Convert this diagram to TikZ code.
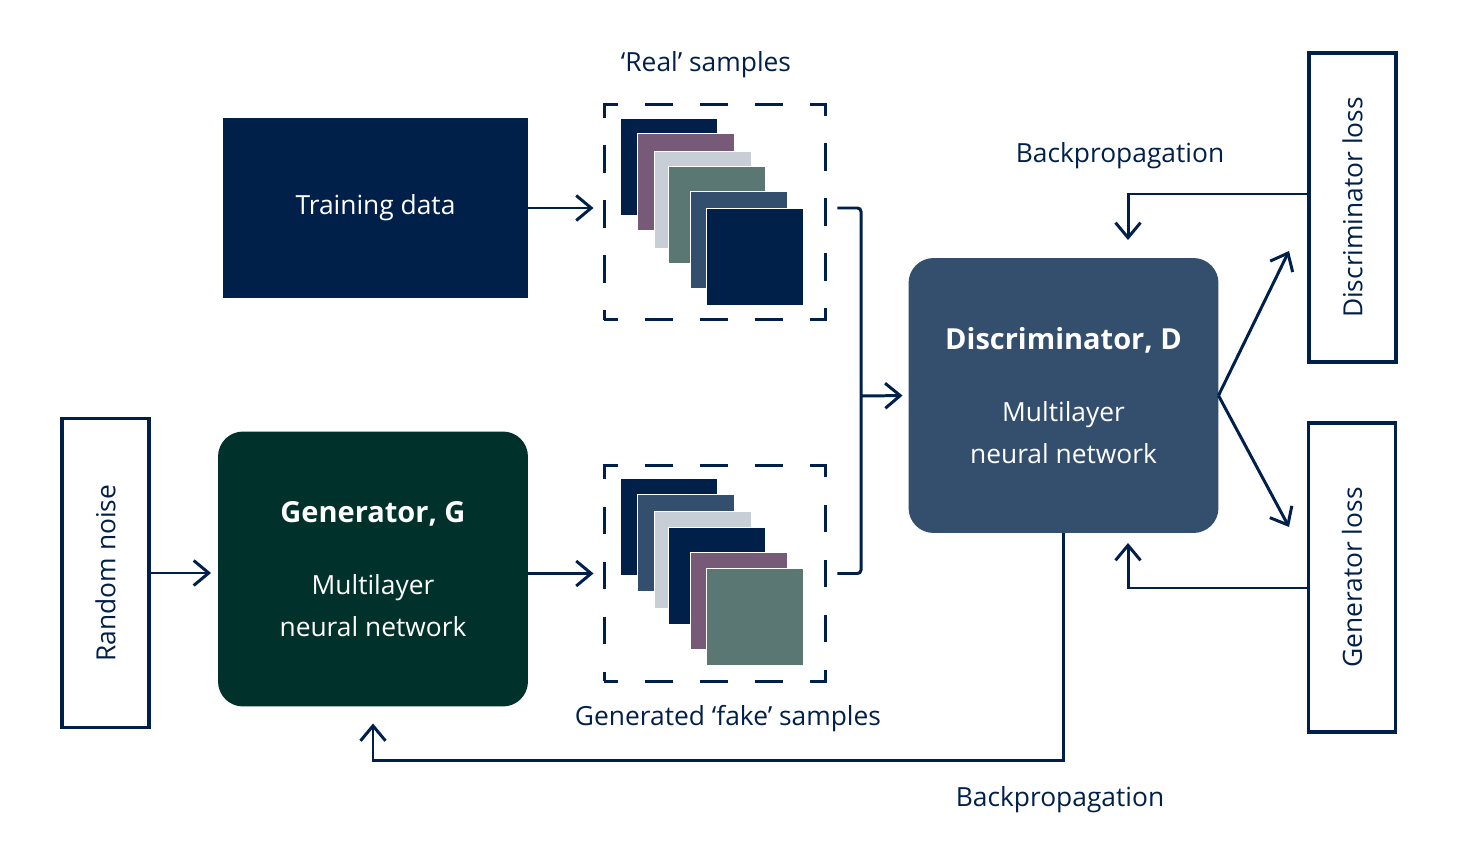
\documentclass[tikz,border=0pt]{standalone}
\usepackage{fontspec}
\setmainfont{Open Sans}
\usepackage{graphicx}
\usetikzlibrary{arrows.meta,positioning,calc}

\definecolor{navy}{HTML}{00204A}
\definecolor{slate}{HTML}{344F6D}
\definecolor{plum}{HTML}{775A78}
\definecolor{mist}{HTML}{C7CED6}
\definecolor{sage}{HTML}{5B7774}
\definecolor{pine}{HTML}{00322B}

\newcommand{\boxtitle}[1]{{\fontsize{16.5}{24}\selectfont\bfseries #1}}

\begin{document}
\begin{tikzpicture}[
    x=0.02cm, y=-0.02cm,
    txt/.style={font=\fontsize{15}{24}\selectfont, text=navy},
    block/.style={rectangle, inner sep=0pt, outer sep=0pt, text=white, align=center, font=\fontsize{15}{24}\selectfont},
    netbox/.style={block, rounded corners=0.5cm, minimum width=6.2cm, minimum height=5.5cm},
    lossbox/.style={rectangle, draw=navy, line width=2pt, fill=white, inner sep=0pt, minimum width=1.74cm, minimum height=6.18cm, txt},
    sample/.style={rectangle, draw=white, line width=0.3pt, minimum size=1.94cm, inner sep=0pt},
    dashbox/.style={rectangle, draw=navy, line width=1.7pt, minimum width=4.44cm, minimum height=4.32cm, dash pattern=on 0.55cm off 0.55cm, dash phase=0.275cm},
    edge/.style={-{Straight Barb[length=0.3cm,width=0.5cm]}, line width=1.7pt, draw=navy},
]
\useasboundingbox (0,0) rectangle (1459,851);

% Training data and real samples
\node[block, fill=navy, minimum width=6.1cm, minimum height=3.6cm] (train) at (375.5,208) {Training data};
\node[dashbox] (realbox) at (715,212) {};
\node[txt] (reallbl) at (706,65) {`Real' samples};
\node[sample, fill=navy] (r1) at (668.5,166.5) {};
\node[sample, fill=plum] (r2) at (685.5,182) {};
\node[sample, fill=mist] (r3) at (702.5,199.5) {};
\node[sample, fill=sage] (r4) at (717,215) {};
\node[sample, fill=slate] (r5) at (738.5,240) {};
\node[sample, fill=navy] (r6) at (754.5,257) {};

% Noise, generator and fake samples
\node[lossbox] (noise) at (105.5,573) {\rotatebox{90}{Random noise}};
\node[netbox, fill=pine] (gen) at (373,569) {\boxtitle{Generator, G}\\[0.6cm] Multilayer\\ neural network};
\node[dashbox] (fakebox) at (715,573.5) {};
\node[txt] (fakelbl) at (728,719) {Generated `fake' samples};
\node[sample, fill=navy] (f1) at (668.5,526.8) {};
\node[sample, fill=slate] (f2) at (685.5,542.5) {};
\node[sample, fill=mist] (f3) at (702.5,560.2) {};
\node[sample, fill=navy] (f4) at (717,575.5) {};
\node[sample, fill=plum] (f5) at (738.5,600.8) {};
\node[sample, fill=sage] (f6) at (754.5,617.2) {};

% Discriminator and losses
\node[netbox, fill=slate] (disc) at (1063.5,395.5) {\boxtitle{Discriminator, D}\\[0.6cm] Multilayer\\ neural network};
\node[lossbox] (dloss) at (1352.5,207.5) {\rotatebox{90}{Discriminator loss}};
\node[lossbox] (gloss) at (1352,577.5) {\rotatebox{90}{Generator loss}};
\node[txt] (bptop) at (1120,156) {Backpropagation};
\node[txt] (bpbot) at (1060,800) {Backpropagation};

\coordinate (merge) at (861,396);
\coordinate (dtip) at (1289,251);
\coordinate (gtip) at (1289,527);
\coordinate (bpd) at (1128,240);
\coordinate (bpg) at (1128,543);

\draw[edge, shorten >=0.18cm] (train.east) -- (train.east -| realbox.west);
\draw[edge, shorten >=0.18cm] (fakebox.west -| gen.east) -- (fakebox.west);
\draw[edge, shorten >=0.14cm] (noise.east) -- (noise.east -| gen.west);
\draw[line width=1.7pt, draw=navy, rounded corners=2pt, shorten <=0.2cm, shorten >=0.2cm] ([yshift=0.08cm]realbox.east) -| (merge) |- (fakebox.east);
\draw[edge, shorten >=0.12cm] (merge) -- (disc.west);
\draw[edge] (disc.east) -- (dtip);
\draw[edge] (disc.east) -- (gtip);
\draw[edge] ([yshift=0.27cm]dloss.west) -| (bpd);
\draw[edge] ([yshift=-0.21cm]gloss.west) -| (bpg);
\draw[edge, shorten >=0.34cm] (disc.south) -- ++(0,228) -| (gen.south);

\end{tikzpicture}
\end{document}
